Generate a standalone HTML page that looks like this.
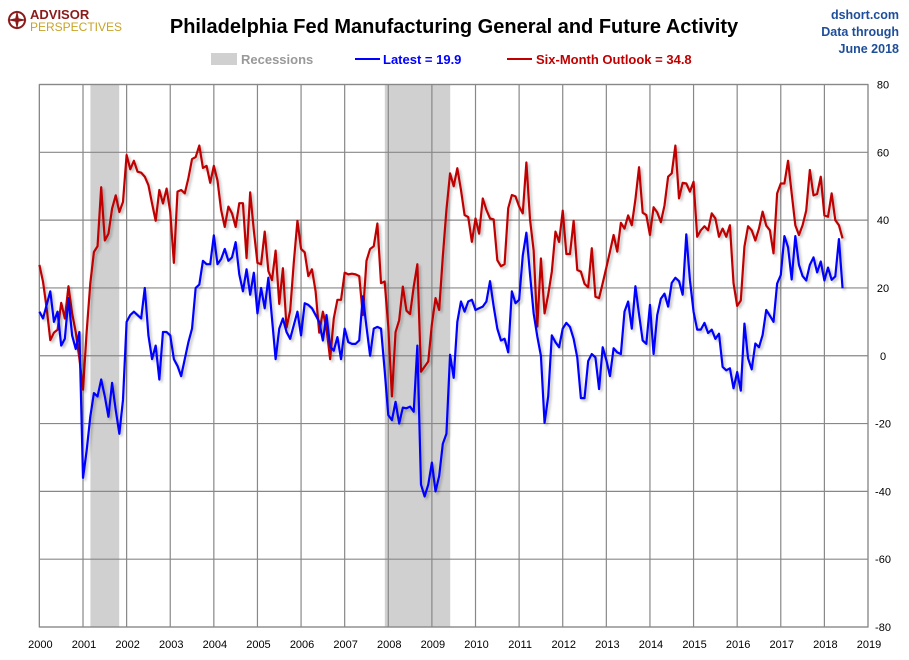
<!DOCTYPE html>
<html><head><meta charset="utf-8">
<style>
body{margin:0;background:#fff;font-family:"Liberation Sans",sans-serif;}
#wrap{position:relative;width:909px;height:660px;overflow:hidden;background:#fff;}
</style></head>
<body>
<div id="wrap">
<svg id="chart" width="909" height="660" xmlns="http://www.w3.org/2000/svg">
<defs>
<filter id="sh" x="-5%" y="-5%" width="110%" height="110%">
<feDropShadow dx="2" dy="2" stdDeviation="1.2" flood-color="#000" flood-opacity="0.25"/>
</filter>
</defs>
<g>
<circle cx="17" cy="20" r="8" fill="none" stroke="#8b1a1a" stroke-width="2"/>
<path d="M17 10 L19 20 L17 30 L15 20 Z" fill="#8b1a1a"/>
<path d="M7 20 L17 18 L27 20 L17 22 Z" fill="#8b1a1a"/>
<text x="30" y="19" font-size="13" font-weight="bold" fill="#8b1a1a">ADVISOR</text>
<text x="30" y="31" font-size="12" fill="#c9a227">PERSPECTIVES</text>
</g>
<text x="454" y="33" text-anchor="middle" font-size="20" font-weight="bold" fill="#000">Philadelphia Fed Manufacturing General and Future Activity</text>
<g font-size="12.5" font-weight="bold" fill="#1f4e99" text-anchor="end">
<text x="899" y="19">dshort.com</text>
<text x="899" y="36">Data through</text>
<text x="899" y="53">June 2018</text>
</g>
<g>
<rect x="211" y="53" width="26" height="12" fill="#d0d0d0"/>
<text x="241" y="64" font-size="13" font-weight="bold" fill="#999">Recessions</text>
<line x1="355" y1="59" x2="380" y2="59" stroke="#0000ff" stroke-width="2"/>
<text x="383" y="64" font-size="13" font-weight="bold" fill="#0000ff">Latest = 19.9</text>
<line x1="507" y1="59" x2="532" y2="59" stroke="#c00000" stroke-width="2"/>
<text x="536" y="64" font-size="13" font-weight="bold" fill="#c00000">Six-Month Outlook = 34.8</text>
</g>
<g id="plot"></g>
</svg>
</div>
<script>
const years = [2000,2001,2002,2003,2004,2005,2006,2007,2008,2009,2010,2011,2012,2013,2014,2015,2016,2017,2018,2019];
const yTicks = [80,60,40,20,0,-20,-40,-60,-80];
const recessions = [[2001.17,2001.83],[2007.92,2009.42]];
const latest = [
13,11,15,19,10,13,3,5,17,6,2,7,
-36,-28,-18,-11,-12,-7,-12,-18,-8,-16,-23,-13,
10,12,13,12,11,20,6,-1,3,-7,7,7,
6,-1,-3,-6,-1,4,8,20,21,28,27,27,
35.5,27,28.5,31.5,28,29,33.5,24,19,25.5,18,24.5,
12.5,20,14,23,11,-1,8,11,7,5,9,13,
6,15.5,15,14,12,10,4.5,12,2.7,1.5,5.5,-1,
8,4,3.5,3.5,4.5,17.5,8.5,0,8,8.5,8,-4.3,
-17.5,-19,-13.6,-20,-15.3,-15.5,-15,-16.5,3,-38,-41.5,-38,
-31.5,-40,-35.5,-26,-23,0.3,-6.5,10,16,13,16,16.5,
13.5,14,14.5,16,22,14.5,8,4.5,5,1,19,15.5,
16.5,29.5,36.3,24,12.5,5.7,0,-19.8,-12,6,4,2.5,
8,9.7,8.5,5,-0.5,-12.5,-12.5,-1.6,0.5,-0.5,-9.8,2.5,
-1.3,-6,2.2,1,0.5,13,16,8,20.5,12.2,4.5,3.5,
15,0.5,12,16.8,18.3,14.5,21.5,23,22,18,35.8,22.3,
13,7.7,7.7,9.7,6.7,7.7,5,6.5,-3.3,-4.3,-3.7,-9.6,
-4.8,-10.3,9.5,-0.8,-4,3.6,2.5,6.1,13.5,11.8,10,21.3,
23.8,35.3,32,22.5,35.3,26.8,23.5,22.2,26.8,29,24.6,27.8,
22.2,26,22.4,23.4,34.4,19.9];
const outlook = [
26.8,21.8,14,4.6,6.8,7.7,15.6,11,20.5,12.5,7,-0.8,
-10,7,21.3,30.6,32.3,49.7,34,36,43.4,47.3,42.4,45.4,
59.2,55,57.5,54.3,54,52.8,50.3,44.9,39.8,48.9,44.9,49.3,
42.5,27.4,48.4,48.9,47.9,52.4,58,58.6,62,55.4,56,51,
56,51.7,43,38,44,42,38,45,45,28.8,48.2,37,
27.4,27,36.6,25,22.3,31,15.3,25.8,8.3,13.3,27.5,39.8,
31.5,30.5,23.5,25.5,19,6.8,13,8,-1,11,16.5,16.5,
24.5,24,24.2,24,23.5,12,28,31.5,32.3,39,21.4,21.9,
8.6,-12,7,10.5,20.4,13.3,12.3,20.4,27,-4.7,-3.2,-1.7,
9.3,17,13.5,29.2,43,53.8,50,55.3,48.9,41.5,40.9,33.6,
40.5,36,46.4,43,40.5,40.2,28.2,26.4,27,43.5,47.4,47,
44,42,57,40.2,31,8.6,28.7,12.5,18,24.8,36.6,33.6,
42.8,30,30,39.8,25.3,24.8,21.2,20.2,31.7,17.4,17,21.4,
26,30.7,35.6,30.7,39.2,37.5,41.4,38.5,46.1,55.6,42.2,41.5,
35.6,43.8,42.3,39.4,44.3,52.8,53.8,62,46.4,51,50.8,48.4,
51.3,35.1,37,38.2,37,42,40.5,35.1,37.5,35.1,38.5,21.4,
14.7,16.3,32.2,38.2,37,34,37.5,42.5,38.4,37,30.2,47.9,
50.8,50.8,57.5,47.9,38.5,35.6,38.5,42.8,54.8,47.3,47.7,52.8,
41.4,41,47.9,40,38.5,34.6];

const X0=39.4, X1=868, Y0=84.5, Y1=627;
const xS = t => X0 + (t-2000)*(X1-X0)/19;
const yS = v => Y0 + (80-v)*(Y1-Y0)/160;
const NS='http://www.w3.org/2000/svg';
const plot=document.getElementById('plot');
function mk(tag,attrs,parent){const e=document.createElementNS(NS,tag);for(const k in attrs)e.setAttribute(k,attrs[k]);(parent||plot).appendChild(e);return e;}

recessions.forEach(r=>{
  const e=mk('rect',{x:xS(r[0]),y:Y0,width:xS(r[1])-xS(r[0]),height:Y1-Y0,fill:'#d0d0d0'});
  
  
});
yTicks.forEach(v=>{
  const l=mk('line',{x1:X0,x2:X1,y1:yS(v),y2:yS(v),stroke:'#888','stroke-width':1.2});
  
  
  const t=mk('text',{x:883,y:yS(v)+4,'font-size':11,'text-anchor':'middle',fill:'#000'});
  t.textContent=v;
  
  
});
years.forEach(y=>{
  const l=mk('line',{x1:xS(y),x2:xS(y),y1:Y0,y2:Y1,stroke:'#888','stroke-width':1.2});
  
  
  const t=mk('text',{x:xS(y)+1,y:648,'font-size':11,'text-anchor':'middle',fill:'#000'});
  t.textContent=y;
  
  
});
const border=mk('rect',{x:X0,y:Y0,width:X1-X0,height:Y1-Y0,fill:'none',stroke:'#888','stroke-width':1.2});



function series(arr,color,name){
  const d=arr.map((v,i)=>(i?'L':'M')+xS(2000+i/12).toFixed(2)+' '+yS(v).toFixed(2)).join(' ');
  const p=mk('path',{d:d,fill:'none',stroke:color,'stroke-width':2.2,'stroke-linejoin':'round',filter:'url(#sh)'});
  
  
}
series(outlook,'#c00000','outlook-line');
series(latest,'#0000ff','latest-line');
</script>
</body></html>
